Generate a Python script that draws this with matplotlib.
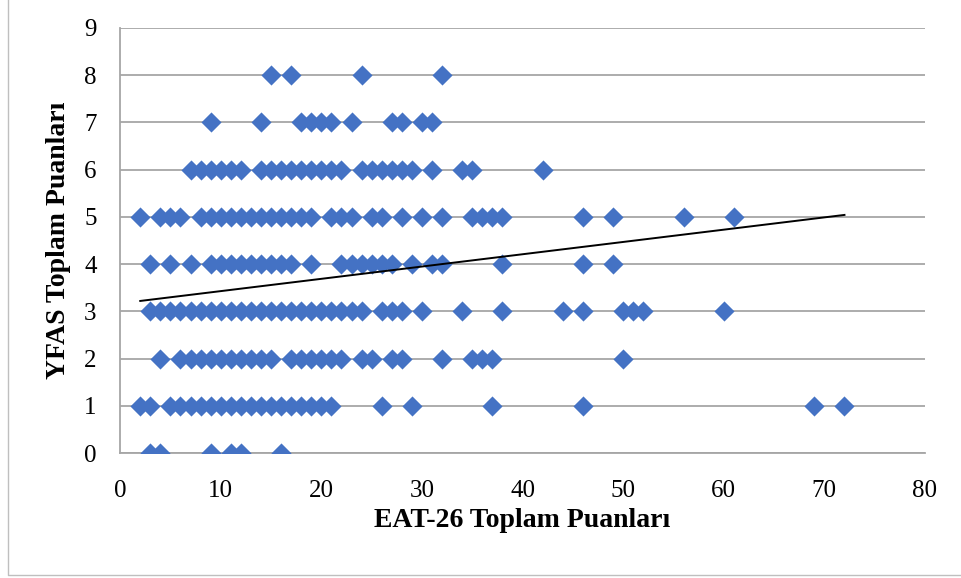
import numpy as np
import matplotlib.pyplot as plt
from matplotlib.lines import Line2D

# EAT-26 puanları, her YFAS puanı için (aynı noktalar üst üste düşüyor)
eat_y0 = [3, 4, 9, 11, 12, 16]
eat_y1 = [2, 3] + list(range(5, 22)) + [26, 29, 37, 46, 69, 72]
eat_y2 = [4] + list(range(6, 16)) + list(range(17, 23)) + [24, 25, 27, 28, 32, 35, 36, 37, 50]
eat_y3 = list(range(3, 25)) + [26, 27, 28, 30, 34, 38, 44, 46, 50, 51, 52, 60]
eat_y4 = [3, 5, 7] + list(range(9, 18)) + [19] + list(range(22, 28)) + [29, 31, 32, 38, 46, 49]
eat_y5 = [2, 4, 5, 6] + list(range(8, 20)) + [21, 22, 23, 25, 26, 28, 30, 32, 35, 36, 37, 38, 46, 49, 56, 61]
eat_y6 = list(range(7, 13)) + list(range(14, 23)) + list(range(24, 30)) + [31, 34, 35, 42]
eat_y7 = [9, 14, 18, 19, 20, 21, 23, 27, 28, 30, 31]
eat_y8 = [15, 17, 24, 32]

rows = [eat_y0, eat_y1, eat_y2, eat_y3, eat_y4, eat_y5, eat_y6, eat_y7, eat_y8]

# doğrusal eğilim çizgisi
trend_intercept = 3.168
trend_slope = 0.026
trend_x = [2, 72]

x_ticks = list(range(0, 81, 10))
y_ticks = list(range(0, 10))

plt.rcParams['font.family'] = ['Liberation Serif', 'DejaVu Serif']

fig = plt.figure(figsize=(9.61, 5.78), dpi=100)
ax = fig.add_axes([0.125, 0.216, 0.8375, 0.736])

xs = np.concatenate([np.array(r, dtype=float) for r in rows])
ys = np.concatenate([np.full(len(r), i, dtype=float) for i, r in enumerate(rows)])
ax.scatter(xs, ys, marker='D', s=105, color='#4472C4', linewidths=0, zorder=3)

tx = np.array(trend_x, dtype=float)
ax.plot(tx, trend_intercept + trend_slope * tx, color='black', lw=1.4, zorder=4)

ax.set_xlim(0, 80)
ax.set_ylim(0, 9)
ax.set_xticks(x_ticks)
ax.set_yticks(y_ticks)
ax.tick_params(length=0, labelsize=18, colors='black')
ax.tick_params(axis='x', pad=19)
ax.tick_params(axis='y', pad=17)
ax.grid(axis='y', color='#A6A6A6', lw=1.3, zorder=0)
ax.set_axisbelow(True)
for side in ['top', 'right']:
    ax.spines[side].set_visible(False)
for side in ['left', 'bottom']:
    ax.spines[side].set_color('#A6A6A6')
    ax.spines[side].set_linewidth(1.3)
ax.spines['bottom'].set_zorder(1)

ax.set_xlabel('EAT-26 Toplam Puanları', fontsize=20, fontweight='bold')
ax.set_ylabel('YFAS Toplam Puanları', fontsize=20, fontweight='bold')
ax.xaxis.set_label_coords(0.5, -0.13)
ax.yaxis.set_label_coords(-0.061, 0.5)

# grafik alanının sol ve alt kenarı
fx0, fy0 = 8 / 961, 1 - 575 / 578
fig.lines.append(Line2D([fx0, fx0, 1.0], [1.0, fy0, fy0], transform=fig.transFigure,
                        color='#BFBFBF', lw=1.0))

fig.savefig('out.png', dpi=100)
